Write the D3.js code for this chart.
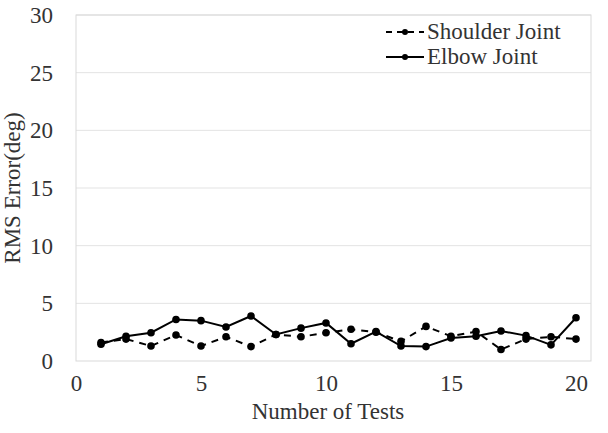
<!DOCTYPE html>
<html><head><meta charset="utf-8">
<script src="https://cdn.jsdelivr.net/npm/d3@7/dist/d3.min.js"></script>
</head><body style="margin:0"><svg id="c" width="608" height="433" style="display:block;background:#fff"></svg>
<script>
const tests = d3.range(1, 21);
const shoulder = [1.6, 1.9, 1.3, 2.25, 1.3, 2.1, 1.25, 2.3, 2.1, 2.45, 2.75, 2.5, 1.7, 3.0, 2.15, 2.55, 1.0, 1.9, 2.1, 1.9];
const elbow = [1.45, 2.15, 2.45, 3.6, 3.5, 2.95, 3.9, 2.3, 2.85, 3.3, 1.5, 2.55, 1.3, 1.25, 2.0, 2.15, 2.6, 2.2, 1.4, 3.75];
const xTicks = [0, 5, 10, 15, 20];
const yTicks = [0, 5, 10, 15, 20, 25, 30];
const seriesNames = ["Shoulder Joint", "Elbow Joint"];

const FS = 23;
const fontName = ["Liberation", "Serif"].join(" ");
const svg = d3.select("#c");
const x = d3.scaleLinear().domain([0, 20]).range([76, 576]);
const y = d3.scaleLinear().domain([0, 30]).range([361, 15]);
const plotRight = 591;

svg.append("g").selectAll("line").data(yTicks.filter(t => t > 0)).join("line")
  .attr("x1", 76).attr("x2", plotRight).attr("y1", d => y(d)).attr("y2", d => y(d))
  .attr("stroke", "#e3e3e3").attr("stroke-width", 1);
svg.append("rect").attr("x", 76).attr("y", 15).attr("width", plotRight - 76).attr("height", 361 - 15)
  .attr("fill", "none").attr("stroke", "#d9d9d9").attr("stroke-width", 1);

const yAxis = svg.append("g").attr("transform", "translate(76,0)")
  .call(d3.axisLeft(y).tickValues(yTicks).tickSize(0).tickPadding(23));
yAxis.select(".domain").remove();
const xAxis = svg.append("g").attr("transform", "translate(0,361)")
  .call(d3.axisBottom(x).tickValues(xTicks).tickSize(0).tickPadding(14));
xAxis.select(".domain").remove();

svg.append("text").attr("x", 328).attr("y", 419).attr("text-anchor", "middle").text("Number of Tests");
svg.append("text").attr("transform", "translate(20,188) rotate(-90)").attr("text-anchor", "middle").text("RMS Error(deg)");

const line = d3.line().x((d, i) => x(tests[i])).y(d => y(d));
const data = [shoulder, elbow];
const dashes = ["7,6", null];
data.forEach((vals, k) => {
  svg.append("path").datum(vals).attr("d", line).attr("fill", "none").attr("stroke", "#000")
    .attr("stroke-width", 2).attr("stroke-dasharray", dashes[k]);
  svg.append("g").selectAll("circle").data(vals).join("circle")
    .attr("cx", (d, i) => x(tests[i])).attr("cy", d => y(d)).attr("r", 3.8).attr("fill", "#000");
});

const lg = svg.append("g");
seriesNames.forEach((n, k) => {
  const ly = 32 + k * 25;
  lg.append("line").attr("x1", 386).attr("x2", 424).attr("y1", ly).attr("y2", ly)
    .attr("stroke", "#000").attr("stroke-width", 2).attr("stroke-dasharray", dashes[k] ? "6,5" : null);
  lg.append("circle").attr("cx", 405).attr("cy", ly).attr("r", 3).attr("fill", "#000");
  lg.append("text").attr("x", 427).attr("y", ly + 7).text(n);
});

svg.selectAll("g").attr("font-family", null);
svg.selectAll("text")
  .attr("font-size", FS)
  .attr("fill", "#333")
  .style("font-family", `"${fontName}"`);
</script></body></html>
